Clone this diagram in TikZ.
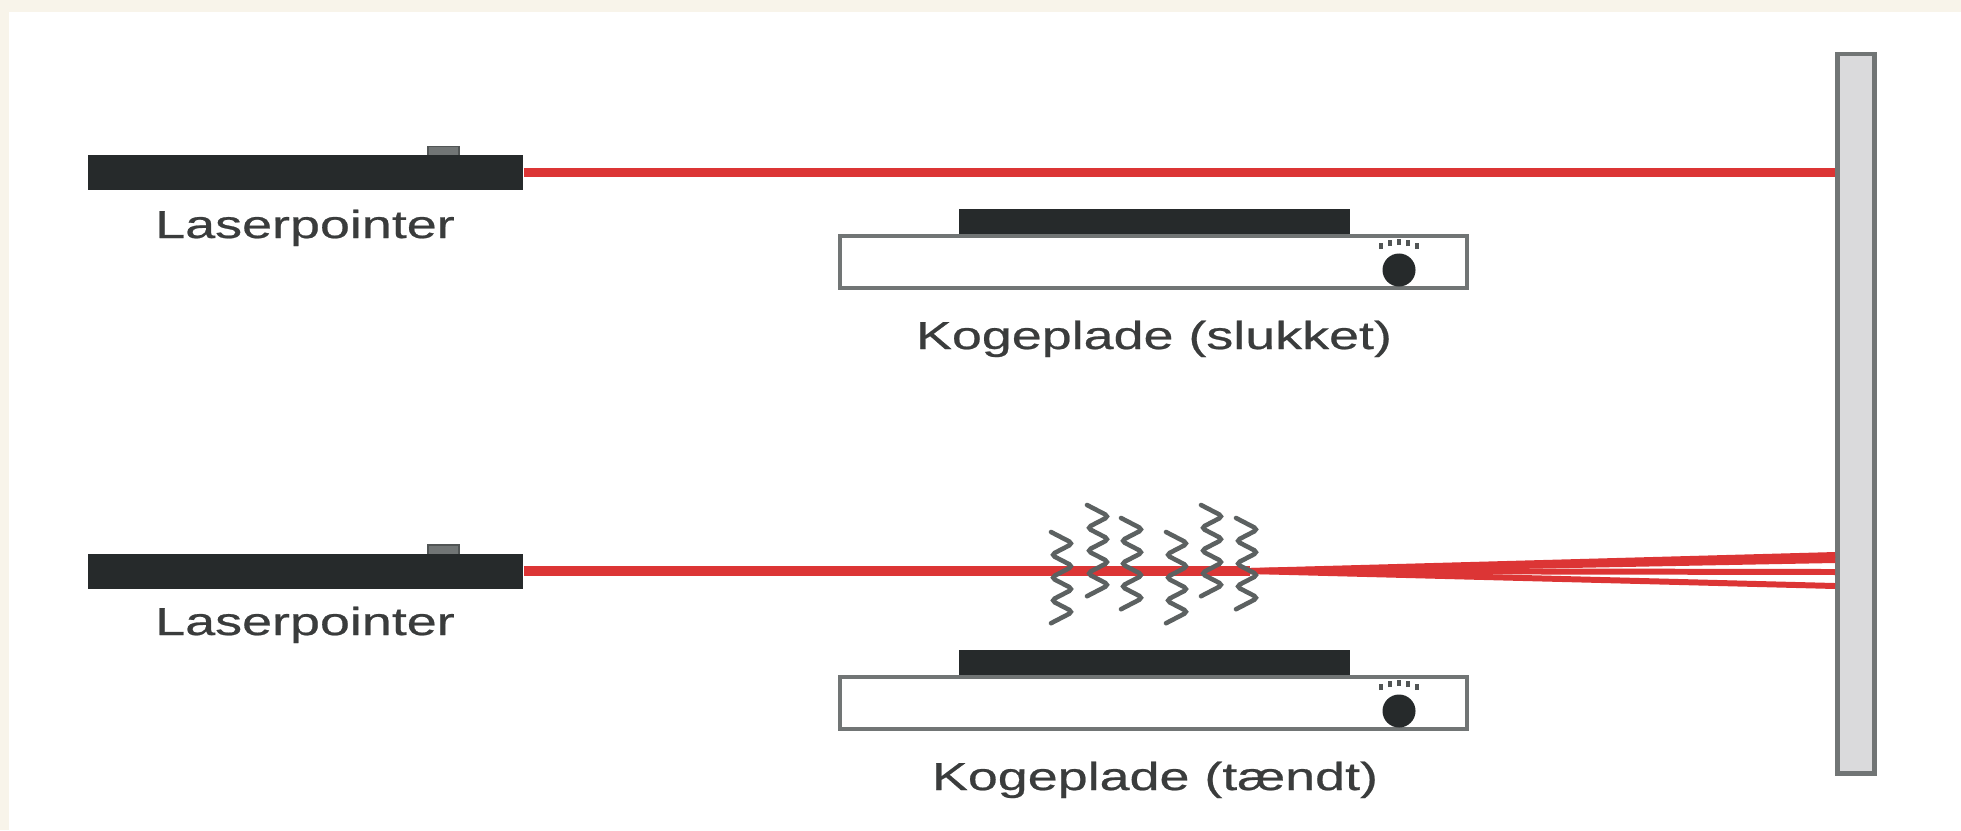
\documentclass[tikz,border=0pt]{standalone}
\usepackage{fontspec}
\newfontfamily\labelfont[FakeStretch=1.38,FakeBold=0.6]{Liberation Sans}
\usetikzlibrary{calc}

\definecolor{laserred}{HTML}{DC3535}
\definecolor{bodyblack}{HTML}{262A2B}
\definecolor{framegray}{HTML}{717575}
\definecolor{screengray}{HTML}{DADADC}
\definecolor{heatgray}{HTML}{5C6161}
\definecolor{textgray}{HTML}{3A3C3C}
\definecolor{paper}{HTML}{F8F4EA}

\tikzset{
  pointer/.style={rectangle, fill=bodyblack, minimum width=4.35cm, minimum height=0.35cm, inner sep=0pt},
  button/.style={rectangle, fill=framegray, draw=bodyblack!80, line width=0.4pt, minimum width=0.31cm, minimum height=0.1cm, inner sep=0pt},
  plate/.style={rectangle, fill=bodyblack, minimum width=3.91cm, minimum height=0.25cm, inner sep=0pt},
  housing/.style={rectangle, fill=white, draw=framegray, line width=1.2pt, minimum width=6.27cm, minimum height=0.52cm, inner sep=0pt},
  knob/.style={circle, fill=bodyblack, minimum size=0.33cm, inner sep=0pt},
  tick/.style={draw=bodyblack!80, line width=0.9pt},
  screen/.style={rectangle, fill=screengray, draw=framegray, line width=1.3pt, minimum width=0.37cm, minimum height=7.19cm, inner sep=0pt},
  beam/.style={draw=laserred, line width=2.8pt},
  ray/.style={draw=laserred, line width=1.7pt},
  heat/.style={draw=heatgray, line width=1.3pt, rounded corners=1.2pt, line cap=round},
  caption/.style={font=\labelfont\fontsize{11.1}{13}\selectfont, text=textgray, inner sep=0pt, anchor=base}
}

\begin{document}
\begin{tikzpicture}[x=0.01cm, y=-0.01cm]
    % paper
    \useasboundingbox (0,0) rectangle (1961,830);
    \fill[paper] (0,0) rectangle (1961,830);
    \fill[white] (9,12) rectangle (1961,830);

    % screen on the right
    \node[screen] (screen) at (1856,413.5) {};

    % laser pointers
    \node[button] (button1) at (443.5,151.5) {};
    \node[pointer] (laser1) at (305.5,172.5) {};
    \node[button] (button2) at (443.5,550) {};
    \node[pointer] (laser2) at (305.5,571) {};

    % hot plates
    \node[plate] (plate1) at (1154.5,221.5) {};
    \node[housing] (base1) at (1153.5,262) {};
    \node[knob] (knob1) at (1399,270) {};
    \node[plate] (plate2) at (1154.5,662.5) {};
    \node[housing] (base2) at (1153.5,703) {};
    \node[knob] (knob2) at (1399,711) {};
    \foreach \k in {knob1,knob2}
      \foreach \dx/\dy in {-18/-21,-9/-24,0/-25,9/-24,18/-21}
        \draw[tick] ($(\k)+(\dx,\dy)$) -- ++(0,-6);

    % beams
    \draw[beam] (laser1.east) -- (laser1.east -| screen.west);
    \coordinate (spread) at (1250,571);
    \draw[beam] (laser2.east) -- (spread);
    \foreach \i/\y in {1/555,2/560,3/572,4/586} {
      \coordinate (hit\i) at (screen.west |- 0,\y);
      \draw[ray] (spread) -- (hit\i);
    }

    % hot air
    \foreach \x/\y in {1062/532,1098/505,1132/518,1177/532,1212/505,1247/518}
      \draw[heat] (\x-11,\y) -- ++(22,11.4) -- ++(-22,11.4) -- ++(22,11.4) -- ++(-22,11.4)
                  -- ++(22,11.4) -- ++(-22,11.4) -- ++(22,11.4) -- ++(-22,11.4);

    % labels
    \node[caption] (name1) at (305,238) {Laserpointer};
    \node[caption] (name2) at (305,635) {Laserpointer};
    \node[caption] (name3) at (1154,349) {Kogeplade (slukket)};
    \node[caption] (name4) at (1155,790) {Kogeplade (tændt)};
\end{tikzpicture}
\end{document}
